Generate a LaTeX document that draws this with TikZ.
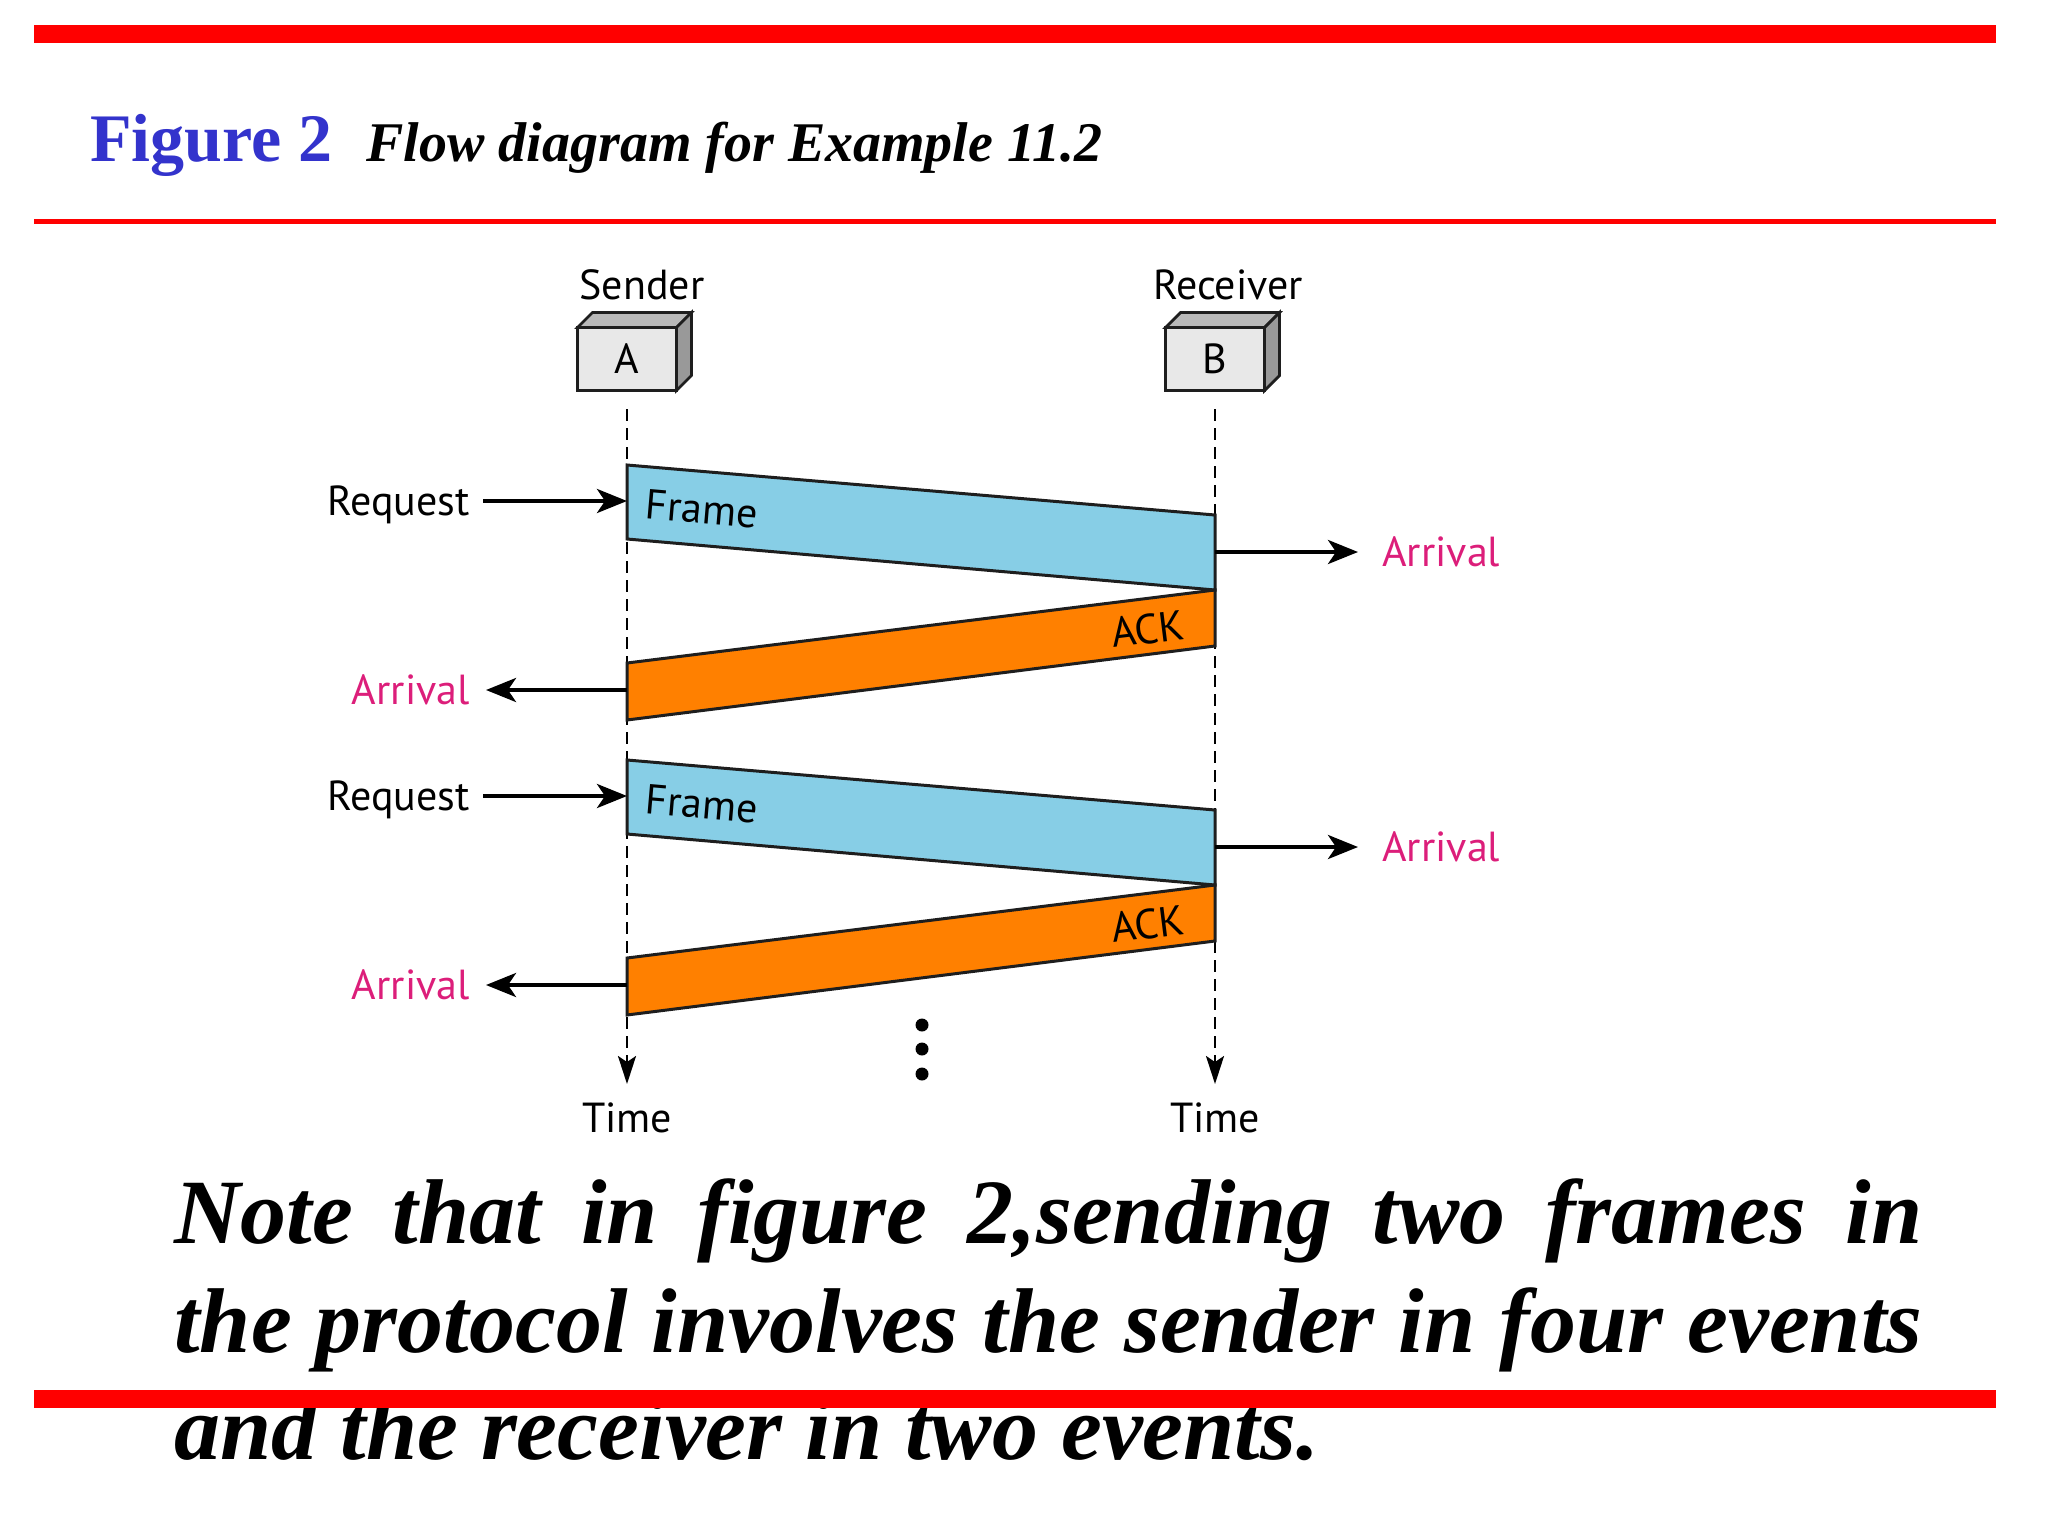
\documentclass[tikz,border=0pt]{standalone}
\usepackage{fontspec}
\setmainfont{Liberation Serif}
\newfontfamily\diagfont{PT Sans}
\usetikzlibrary{arrows.meta}
\definecolor{barred}{RGB}{255,0,0}
\definecolor{figblue}{RGB}{51,51,204}
\definecolor{framecyan}{RGB}{135,206,230}
\definecolor{ackorange}{RGB}{255,128,0}
\definecolor{arrpink}{RGB}{220,30,122}
\definecolor{edgegray}{RGB}{30,30,30}
\begin{document}
\begin{tikzpicture}[x=0.5pt, y=-0.5pt,
  lbl/.style={font=\diagfont\fontsize{21}{25}\selectfont, inner sep=0pt, text height=14.5pt, text depth=0pt},
  arv/.style={lbl, text=arrpink},
  evarrow/.style={-{Stealth[length=15pt, width=12pt, inset=4pt]}, line width=2pt},
  lifeline/.style={dash pattern=on 6pt off 3.5pt, line width=1.3pt, -{Stealth[length=14pt, width=9pt, inset=3pt]}},
  pkt/.style={draw=edgegray, line width=1.5pt, line join=miter},
  station/.style={lbl, draw=edgegray, line width=1.4pt, fill=gray!18, outer sep=0pt, minimum width=49.5pt, minimum height=31.5pt},
  bar/.style={barred, line width=9pt}]
\useasboundingbox (0,0) rectangle (2048,1536);

% heading
\draw[bar] (34,34) -- (1996,34);
\node[anchor=base west, inner sep=0pt, font=\bfseries\fontsize{34}{40}\selectfont, text=figblue] (fig) at (90,162) {Figure 2};
\node[anchor=base west, inner sep=0pt, font=\bfseries\itshape\fontsize{28}{34}\selectfont] (caption) at (366,162) {Flow diagram for Example 11.2};
\draw[barred, line width=2.5pt] (34,221) -- (1996,221);

% stations
\node[lbl] (sndr) at (642,285) {Sender};
\node[lbl] (rcvr) at (1228,285) {Receiver};
\node[station] (stA) at (627,359) {A};
\node[station] (stB) at (1215,359) {B};
\foreach \s in {stA,stB}{
  \filldraw[pkt, line width=1.4pt, fill=gray!55] (\s.north west) -- ++(15,-15) -- ([shift={(15,-15)}]\s.north east) -- (\s.north east) -- cycle;
  \filldraw[pkt, line width=1.4pt, fill=gray!80] (\s.north east) -- ++(15,-15) -- ([shift={(15,-15)}]\s.south east) -- (\s.south east) -- cycle;
}
\node[lbl, anchor=north] (timeA) at (627,1103) {Time};
\node[lbl, anchor=north] (timeB) at (1215,1103) {Time};
\draw[lifeline, shorten <=9.25pt, shorten >=9.5pt] (stA.south) -- (timeA.north);
\draw[lifeline, shorten <=9.25pt, shorten >=9.5pt] (stB.south) -- (timeB.north);

% two frame/ack rounds
\foreach \dy [count=\i] in {0,295}{
\begin{scope}[shift={(0,\dy)}]
\filldraw[pkt, fill=framecyan] (627,465) -- (1215,515) -- (1215,590) -- (627,539) -- cycle;
\filldraw[pkt, fill=ackorange] (627,663) -- (1215,590) -- (1215,646) -- (627,720) -- cycle;
\node[lbl, rotate=-4.9] (fr\i) at (702,509) {Frame};
\node[lbl, rotate=7.1] (ack\i) at (1148,629) {ACK};
\coordinate (in\i) at (627,501);
\coordinate (out\i) at (1215,552);
\coordinate (back\i) at (627,690);
\node[lbl, anchor=east] (req\i) at (470,501) {Request};
\node[arv, anchor=west] (arrB\i) at (1382,552) {Arrival};
\node[arv, anchor=east] (arrA\i) at (470,690) {Arrival};
\draw[evarrow, shorten <=6.5pt] (req\i.east) -- (in\i);
\draw[evarrow, shorten >=12pt] (out\i) -- (arrB\i.west);
\draw[evarrow, shorten >=8pt] (back\i) -- (arrA\i.east);
\end{scope}
}
\foreach \y [count=\k] in {1025,1049,1074}
  \node[circle, fill, inner sep=0pt, minimum size=6.5pt] (dot\k) at (922,\y) {};

% note
\node[anchor=base west, inner sep=0pt, font=\bfseries\itshape\fontsize{46}{54}\selectfont] (note1) at (174,1243) {\makebox[874pt][s]{Note that in figure 2,sending two frames in}};
\node[anchor=base west, inner sep=0pt, font=\bfseries\itshape\fontsize{46}{54}\selectfont] (note2) at (174,1352) {\makebox[874pt][s]{the protocol involves the sender in four events}};
\node[anchor=base west, inner sep=0pt, font=\bfseries\itshape\fontsize{46}{54}\selectfont] (note3) at (174,1459) {and the receiver in two events.};
\draw[bar] (34,1399) -- (1996,1399);
\end{tikzpicture}
\end{document}
